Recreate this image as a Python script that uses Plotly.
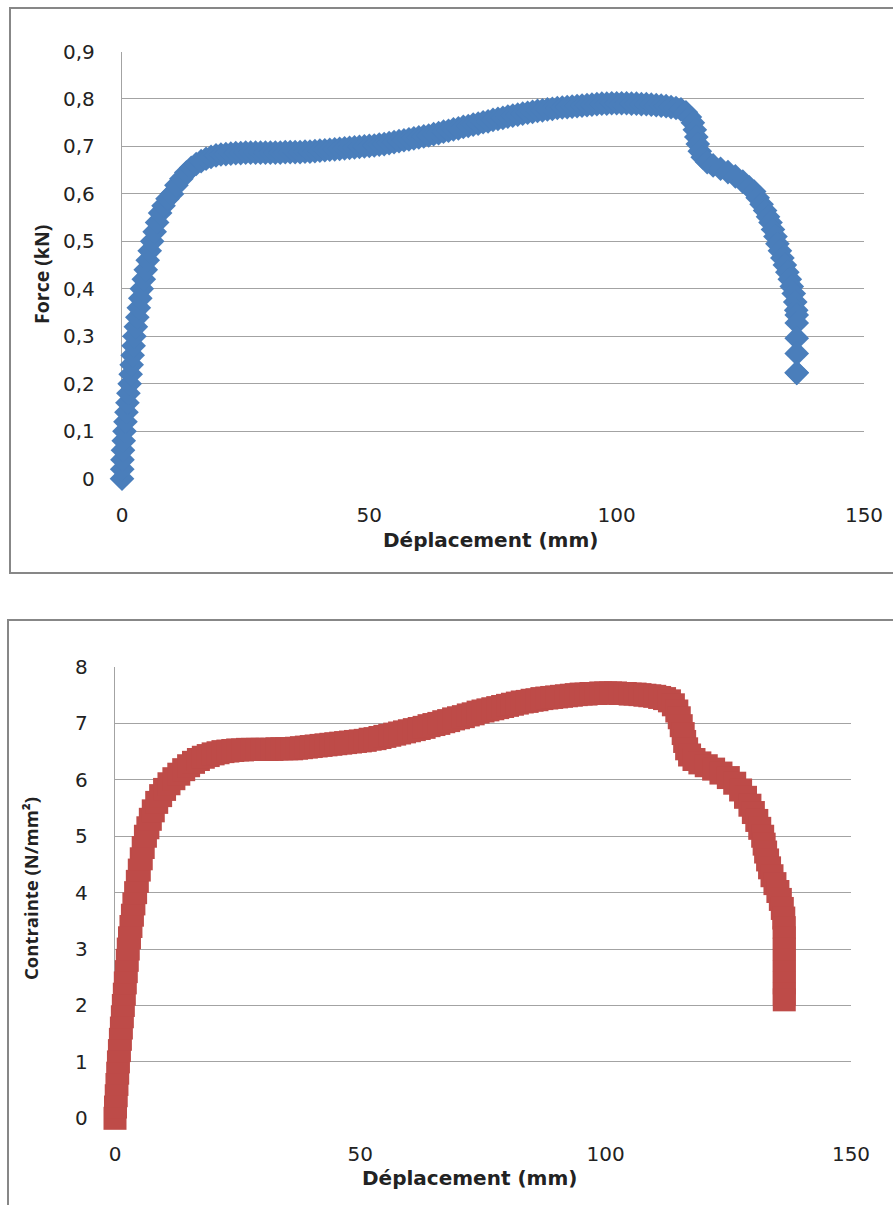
import plotly.graph_objects as go

# ---------------- data ----------------
disp_force = [
    0.0, 0.05, 0.1, 0.2, 0.35, 0.5, 0.7, 0.9, 1.1, 1.3, 1.55, 1.75, 1.95, 2.15, 2.35,
    2.5, 2.8, 3.1, 3.4, 3.7, 4.0, 4.4, 4.8, 5.2, 5.6, 6.1, 6.6, 7.1, 7.7, 8.4, 9.2,
    10.1, 11.0, 12.0, 13.0, 14.0, 15.0, 16.0, 17.0, 18.0, 19.0,
    20, 21, 22, 23, 24, 25, 26, 27, 28, 29, 30, 31, 32, 33, 34, 35, 36, 37, 38, 39,
    40, 41, 42, 43, 44, 45, 46, 47, 48, 49, 50, 51, 52, 53, 54, 55, 56, 57, 58, 59,
    60, 61, 62, 63, 64, 65, 66, 67, 68, 69, 70, 71, 72, 73, 74, 75, 76, 77, 78, 79,
    80, 81, 82, 83, 84, 85, 86, 87, 88, 89, 90, 91, 92, 93, 94, 95, 96, 97, 98, 99,
    100, 101, 102, 103, 104, 105, 106, 107, 108, 109, 110, 111, 112,
    113, 114, 114.8, 115.4, 115.8, 116.1, 116.4, 116.8, 117.4, 118.3, 119.5, 121.0,
    122.5, 124.0, 125.5, 126.8, 127.8, 128.5, 129.3, 130.0, 130.6, 131.1, 131.6, 132.1,
    132.5, 133.0, 133.5, 134.0, 134.5, 135.0, 135.4, 135.8, 136.1, 136.3, 136.4, 136.4,
    136.4, 136.4, 136.4, 136.4,
]
force_kn = [
    0.0, 0.02, 0.04, 0.06, 0.08, 0.10, 0.12, 0.14, 0.16, 0.18, 0.20, 0.22, 0.24, 0.26, 0.28,
    0.30, 0.32, 0.34, 0.36, 0.38, 0.40, 0.42, 0.44, 0.46, 0.48, 0.50, 0.52, 0.54, 0.56, 0.575, 0.59,
    0.600, 0.618, 0.632, 0.645, 0.655, 0.663, 0.669, 0.674, 0.678, 0.681,
    0.683, 0.684, 0.685, 0.686, 0.686, 0.687, 0.687, 0.687, 0.687, 0.687, 0.687, 0.687, 0.687, 0.688, 0.688, 0.688, 0.688, 0.689, 0.689, 0.690,
    0.691, 0.692, 0.693, 0.694, 0.695, 0.696, 0.697, 0.698, 0.699, 0.700, 0.701, 0.702, 0.704, 0.705, 0.707, 0.709, 0.711, 0.713, 0.715, 0.717,
    0.719, 0.721, 0.723, 0.726, 0.728, 0.731, 0.733, 0.736, 0.738, 0.741, 0.743, 0.746, 0.748, 0.751, 0.753, 0.756, 0.758, 0.760, 0.763, 0.765,
    0.767, 0.769, 0.771, 0.773, 0.775, 0.776, 0.778, 0.779, 0.781, 0.782, 0.783, 0.784, 0.785, 0.786, 0.787, 0.788, 0.789, 0.790, 0.790, 0.791,
    0.791, 0.791, 0.791, 0.790, 0.790, 0.789, 0.789, 0.788, 0.787, 0.786, 0.785, 0.783, 0.781,
    0.778, 0.772, 0.762, 0.750, 0.735, 0.720, 0.705, 0.690, 0.677, 0.667, 0.660, 0.653,
    0.646, 0.637, 0.626, 0.614, 0.605, 0.592, 0.578, 0.565, 0.552, 0.540, 0.525, 0.510,
    0.495, 0.480, 0.465, 0.450, 0.435, 0.420, 0.405, 0.390, 0.372, 0.355, 0.345, 0.328,
    0.296, 0.264, 0.223, 0.223,
]

disp_stress = [
    0.0, 0.1, 0.25, 0.4, 0.55, 0.7, 0.9, 1.1, 1.3, 1.5, 1.7, 1.9, 2.1, 2.3, 2.5, 2.7,
    2.95, 3.25, 3.55, 3.85, 4.2, 4.55, 4.95, 5.35, 5.75, 6.2, 6.7, 7.2, 7.8, 8.5, 9.3,
    10.1, 11.0, 12.0, 13.0, 14.0, 15.0, 16.0, 17.0, 18.0, 19.0,
    20, 21, 22, 23, 24, 25, 26, 27, 28, 29, 30, 31, 32, 33, 34, 35, 36, 37, 38, 39,
    40, 41, 42, 43, 44, 45, 46, 47, 48, 49, 50, 51, 52, 53, 54, 55, 56, 57, 58, 59,
    60, 61, 62, 63, 64, 65, 66, 67, 68, 69, 70, 71, 72, 73, 74, 75, 76, 77, 78, 79,
    80, 81, 82, 83, 84, 85, 86, 87, 88, 89, 90, 91, 92, 93, 94, 95, 96, 97, 98, 99,
    100, 101, 102, 103, 104, 105, 106, 107, 108, 109, 110, 111, 112,
    113, 113.8, 114.5, 115.0, 115.4, 115.8, 116.1, 116.5, 117.1, 118.0, 119.2, 120.5,
    122.0, 123.5, 125.0, 126.3, 127.5, 128.5, 129.4, 130.1, 130.8, 131.4, 132.0, 132.3,
    132.6, 133.0, 133.4, 133.9, 134.5, 135.1, 135.6, 136.0, 136.3, 136.4, 136.4, 136.4,
    136.4, 136.4, 136.4, 136.4, 136.4,
]
stress_nmm2 = [
    0.0, 0.2, 0.4, 0.6, 0.8, 1.0, 1.2, 1.4, 1.6, 1.8, 2.0, 2.2, 2.4, 2.6, 2.8, 3.0,
    3.2, 3.4, 3.6, 3.8, 4.0, 4.2, 4.4, 4.6, 4.8, 5.0, 5.15, 5.3, 5.45, 5.6, 5.72,
    5.83, 5.93, 6.02, 6.10, 6.18, 6.25, 6.31, 6.36, 6.40, 6.43,
    6.46, 6.48, 6.50, 6.51, 6.52, 6.53, 6.53, 6.54, 6.54, 6.54, 6.54, 6.54, 6.54, 6.55, 6.55, 6.55, 6.55, 6.56, 6.57, 6.58,
    6.59, 6.60, 6.61, 6.62, 6.63, 6.64, 6.65, 6.66, 6.67, 6.68, 6.69, 6.70, 6.72, 6.73, 6.75, 6.77, 6.79, 6.81, 6.83, 6.85,
    6.87, 6.89, 6.91, 6.93, 6.96, 6.98, 7.00, 7.03, 7.05, 7.08, 7.10, 7.12, 7.15, 7.17, 7.20, 7.22, 7.24, 7.26, 7.28, 7.30,
    7.32, 7.34, 7.36, 7.38, 7.39, 7.41, 7.42, 7.44, 7.45, 7.46, 7.47, 7.48, 7.49, 7.50, 7.51, 7.52, 7.52, 7.53, 7.53, 7.54,
    7.54, 7.54, 7.54, 7.53, 7.53, 7.52, 7.52, 7.51, 7.50, 7.49, 7.48, 7.46, 7.44,
    7.40, 7.33, 7.22, 7.10, 6.96, 6.82, 6.68, 6.55, 6.44, 6.36, 6.30, 6.25,
    6.19, 6.12, 6.04, 5.94, 5.82, 5.69, 5.55, 5.42, 5.28, 5.14, 5.00, 4.86,
    4.72, 4.58, 4.44, 4.30, 4.16, 4.02, 3.88, 3.72, 3.55, 3.38, 3.20, 3.00,
    2.80, 2.60, 2.40, 2.20, 2.10,
]

x_title = "Déplacement (mm)"
y1_title = "Force (kN)"
y2_title = "Contrainte (N/mm²)"

# ---------------- styling ----------------
W, H = 893, 1205
BLUE = "#4A7EBB"
RED = "#BE4B48"
GRID = "#A3A3A3"
BORDER = "#878787"
TXT = "#222222"
HFONT = "DejaVu Sans"
VFONT = "Open Sans"

def px(x):
    return x / W

def py(y):
    return 1 - y / H

fig = go.Figure()
fig.add_trace(go.Scatter(
    x=disp_force, y=force_kn, mode="markers", xaxis="x", yaxis="y",
    marker=dict(symbol="diamond", size=19, color=BLUE, line=dict(width=0)),
    cliponaxis=False, showlegend=False, hoverinfo="skip",
))
fig.add_trace(go.Scatter(
    x=disp_stress, y=stress_nmm2, mode="markers", xaxis="x2", yaxis="y2",
    marker=dict(symbol="square", size=23, color=RED, line=dict(width=0)),
    cliponaxis=False, showlegend=False, hoverinfo="skip",
))

tickfont = dict(family=HFONT, size=20, color=TXT)
common_x = dict(range=[0, 150], dtick=50, tick0=0, showgrid=False, zeroline=False,
                showline=False, ticks="", tickfont=tickfont, ticklabelstandoff=22,
                automargin=False, fixedrange=True, layer="below traces")
common_y = dict(showgrid=True, gridcolor=GRID, gridwidth=1.3, zeroline=False,
                showline=True, linecolor=GRID, linewidth=1.3, ticks="",
                tickfont=tickfont, ticklabelstandoff=22, automargin=False,
                fixedrange=True, layer="below traces")

fig.update_layout(
    template="none",
    width=W, height=H, autosize=False,
    margin=dict(l=0, r=0, t=0, b=0, pad=0),
    paper_bgcolor="white", plot_bgcolor="white",
    separators=", ",
    font=dict(family=HFONT, color=TXT),
    xaxis=dict(domain=[px(122), px(864)], anchor="y", **common_x),
    yaxis=dict(domain=[py(478.7), py(51.5)], anchor="x", range=[0, 0.9], dtick=0.1, tick0=0, **common_y),
    xaxis2=dict(domain=[px(115), px(851)], anchor="y2", **common_x),
    yaxis2=dict(domain=[py(1118.3), py(667)], anchor="x2", range=[0, 8], dtick=1, tick0=0, **common_y),
    shapes=[
        dict(type="rect", xref="paper", yref="paper", x0=px(10), x1=1.05, y0=py(573), y1=py(8),
             line=dict(color=BORDER, width=2), fillcolor="rgba(0,0,0,0)", layer="below"),
        dict(type="rect", xref="paper", yref="paper", x0=px(8), x1=1.05, y0=-0.05, y1=py(620),
             line=dict(color=BORDER, width=2), fillcolor="rgba(0,0,0,0)", layer="below"),
    ],
    annotations=[
        dict(text=f"<b>{x_title}</b>", xref="paper", yref="paper", x=px(490), y=py(540),
             showarrow=False, xanchor="center", yanchor="middle", font=dict(size=20, family=HFONT, color=TXT)),
        dict(text=f"<b>{y1_title}</b>", xref="paper", yref="paper", x=px(42), y=py(275),
             showarrow=False, xanchor="center", yanchor="middle", textangle=-90,
             font=dict(size=19.5, family=VFONT, color=TXT)),
        dict(text=f"<b>{x_title}</b>", xref="paper", yref="paper", x=px(469), y=py(1178),
             showarrow=False, xanchor="center", yanchor="middle", font=dict(size=20, family=HFONT, color=TXT)),
        dict(text=f"<b>{y2_title}</b>", xref="paper", yref="paper", x=px(30), y=py(889),
             showarrow=False, xanchor="center", yanchor="middle", textangle=-90,
             font=dict(size=18.5, family=VFONT, color=TXT)),
    ],
)

fig.write_html("out.html")
